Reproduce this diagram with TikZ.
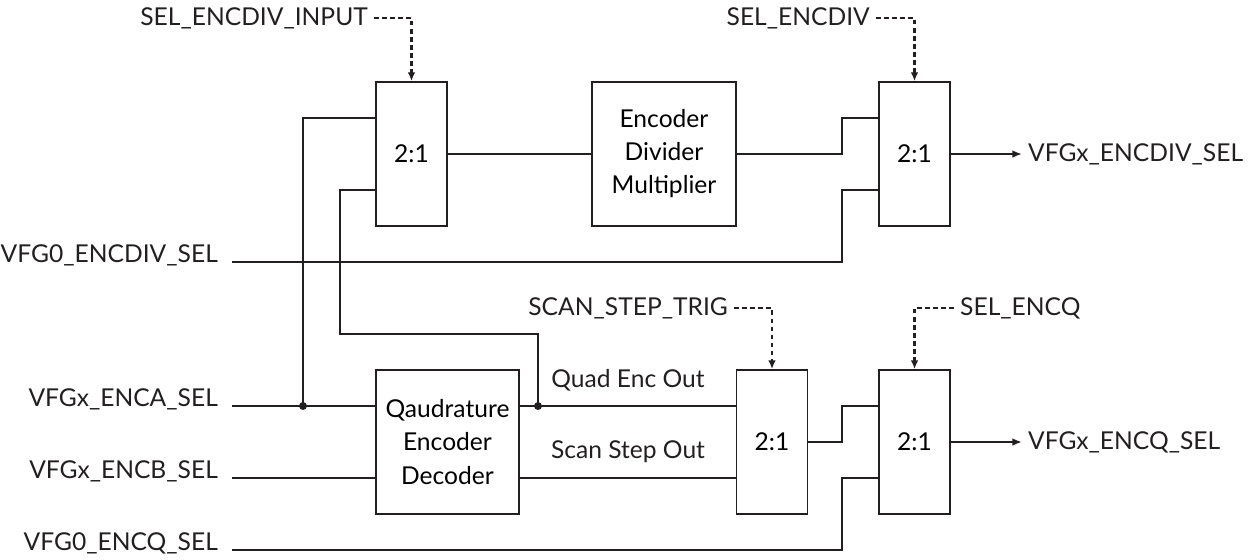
\documentclass[tikz,border=0pt]{standalone}
\usepackage{fontspec}
\setmainfont{Lato}
\usetikzlibrary{arrows.meta}
\definecolor{ink}{HTML}{231F20}
\tikzset{
  wire/.style={draw=ink, line width=1.1pt},
  selline/.style={draw=ink, line width=1.2pt, dash pattern=on 2.6pt off 2pt, -{Latex[length=5pt,width=4.4pt]}},
  outline/.style={draw=ink, line width=1.1pt, -{Latex[length=5.5pt,width=4.4pt]}},
  mux/.style={draw=ink, line width=1.1pt, minimum width=1.42cm, minimum height=2.88cm, inner sep=0pt},
  blk/.style={draw=ink, line width=1.1pt, minimum width=2.87cm, minimum height=2.88cm, inner sep=0pt, align=center},
  sig/.style={text=ink},
  jdot/.style={fill=ink}
}
\begin{document}
\begin{tikzpicture}[x=0.02cm,y=-0.02cm,font=\fontsize{14}{18.8}\selectfont]
\useasboundingbox (0,0) rectangle (1250,559);
\node[mux] (m1) at (411.5,154) {2:1};
\node[blk] (enc) at (664,154) {Encoder\\Divider\\Multiplier};
\node[mux] (m2) at (914.5,154) {2:1};
\node[blk] (qd) at (447.5,442) {Qaudrature\\Encoder\\Decoder};
\node[mux] (m3) at (772,442) {2:1};
\node[mux] (m4) at (914.5,442) {2:1};
\coordinate (m1a) at ([yshift=0.72cm]m1.west);
\coordinate (m1b) at ([yshift=-0.72cm]m1.west);
\coordinate (m2a) at ([yshift=0.72cm]m2.west);
\coordinate (m2b) at ([yshift=-0.72cm]m2.west);
\coordinate (m3a) at ([yshift=0.72cm]m3.west);
\coordinate (m3b) at ([yshift=-0.72cm]m3.west);
\coordinate (m4a) at ([yshift=0.72cm]m4.west);
\coordinate (m4b) at ([yshift=-0.72cm]m4.west);
\coordinate (sD) at (232,262);
\coordinate (sA) at (232,406);
\coordinate (sB) at (232,478);
\coordinate (sQ) at (232,550);
\coordinate (ja) at (303,406);
\coordinate (jq) at (538,406);
\node[sig, anchor=base east] (lD) at ([xshift=-0.16cm]sD) {VFG0\_ENCDIV\_SEL};
\node[sig, anchor=base east] (lA) at ([xshift=-0.16cm]sA) {VFGx\_ENCA\_SEL};
\node[sig, anchor=base east] (lB) at ([xshift=-0.16cm]sB) {VFGx\_ENCB\_SEL};
\node[sig, anchor=base east] (lQ) at ([xshift=-0.16cm]sQ) {VFG0\_ENCQ\_SEL};
\node[sig, anchor=east] (t1) at (374,18) {SEL\_ENCDIV\_INPUT};
\node[sig, anchor=east] (t2) at (876,18) {SEL\_ENCDIV};
\node[sig, anchor=east] (t3) at (734,308) {SCAN\_STEP\_TRIG};
\node[sig, anchor=west] (t4) at (954,308) {SEL\_ENCQ};
\node[sig, anchor=west] (oD) at (1022,154) {VFGx\_ENCDIV\_SEL};
\node[sig, anchor=west] (oQ) at (1022,442) {VFGx\_ENCQ\_SEL};
\node[sig] (nq) at (628,380) {Quad Enc Out};
\node[sig] (ns) at (628,452) {Scan Step Out};
\draw[selline] (t1.east) -| (m1.north);
\draw[selline] (t2.east) -| (m2.north);
\draw[selline] (t3.east) -| (m3.north);
\draw[selline] (t4.west) -| (m4.north);
\draw[wire] (sA) -- (qd.west |- sA);
\draw[wire] (sB) -- (qd.west |- sB);
\draw[wire] (ja) |- (m1a);
\draw[wire] (m1.east) -- (enc.west);
\draw[wire] (enc.east) -| ([xshift=-0.72cm]m2a) -- (m2a);
\draw[wire] (sD) -| ([xshift=-0.72cm]m2b) -- (m2b);
\draw[wire] (qd.east |- m3a) -- (m3a);
\draw[wire] (qd.east |- m3b) -- (m3b);
\draw[wire] (jq) |- (340,334) |- (m1b);
\draw[wire] (m3.east) -| ([xshift=-0.72cm]m4a) -- (m4a);
\draw[wire] (sQ) -| ([xshift=-0.72cm]m4b) -- (m4b);
\draw[outline] (m2.east) -- (oD.west);
\draw[outline] (m4.east) -- (oQ.west);
\fill[jdot] (ja) circle (4);
\fill[jdot] (jq) circle (4);
\end{tikzpicture}
\end{document}
